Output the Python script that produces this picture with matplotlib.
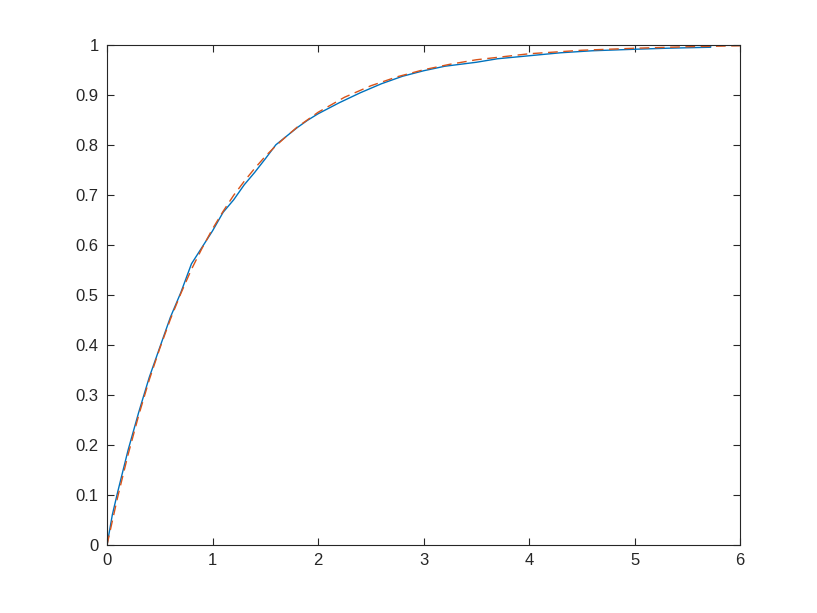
import numpy as np
import matplotlib
matplotlib.use('Agg')
import matplotlib.pyplot as plt

x_emp = [0, 0.05, 0.1, 0.2, 0.3, 0.4, 0.5, 0.6, 0.7, 0.8, 0.9, 1.0, 1.1, 1.2, 1.3,
         1.4, 1.5, 1.6, 1.7, 1.8, 1.9, 2.0, 2.1, 2.2, 2.3, 2.4, 2.5, 2.6, 2.8, 3.0,
         3.2, 3.5, 3.7, 4.0, 4.3, 4.6, 5.0, 5.3, 5.5, 5.72, 5.72]
y_emp = [0, 0.06, 0.105, 0.19, 0.265, 0.335, 0.395, 0.455, 0.505, 0.562, 0.595,
         0.628, 0.665, 0.69, 0.72, 0.745, 0.772, 0.80, 0.817, 0.834, 0.849, 0.862,
         0.873, 0.884, 0.894, 0.904, 0.913, 0.922, 0.937, 0.948, 0.957, 0.965,
         0.972, 0.978, 0.984, 0.988, 0.991, 0.993, 0.994, 0.995, 1.0]

# theoretical cdf (red dashed)
x_th = [0, 0.1, 0.2, 0.3, 0.4, 0.5, 0.6, 0.7, 0.8, 0.9, 1.0, 1.1, 1.2, 1.3, 1.4,
        1.5, 1.6, 1.7, 1.8, 1.9, 2.0, 2.25, 2.5, 2.75, 3.0, 3.25, 3.5, 3.75, 4.0,
        4.5, 5.0, 5.5, 6.0]
y_th = [0, 0.095, 0.181, 0.259, 0.33, 0.393, 0.451, 0.503, 0.551, 0.593, 0.632,
        0.667, 0.699, 0.727, 0.753, 0.777, 0.798, 0.817, 0.835, 0.85, 0.865,
        0.895, 0.918, 0.936, 0.95, 0.961, 0.97, 0.976, 0.982, 0.989, 0.993,
        0.996, 0.998]

plt.rcParams['font.family'] = ['Liberation Sans', 'DejaVu Sans']

fig = plt.figure(figsize=(8.17, 6.13), dpi=100)
ax = fig.add_axes([0.131, 0.111, 0.775, 0.816])

ax.plot(x_emp, y_emp, color='#0072BD', lw=1.0)
ax.plot(x_th, y_th, color='#D95319', lw=1.0, ls=(0, (7, 4)))

ax.set_xlim(0, 6)
ax.set_ylim(0, 1)
ax.set_xticks(np.arange(0, 7, 1))
ax.set_yticks(np.arange(0, 1.01, 0.1))
ax.set_yticklabels(['0', '0.1', '0.2', '0.3', '0.4', '0.5', '0.6', '0.7', '0.8', '0.9', '1'])

dark = '#262626'
for s in ax.spines.values():
    s.set_color(dark)
    s.set_linewidth(0.8)
ax.tick_params(direction='in', top=True, right=True, length=5, width=0.8,
               colors=dark, labelsize=12, pad=6)

fig.savefig('out.png', dpi=100)
